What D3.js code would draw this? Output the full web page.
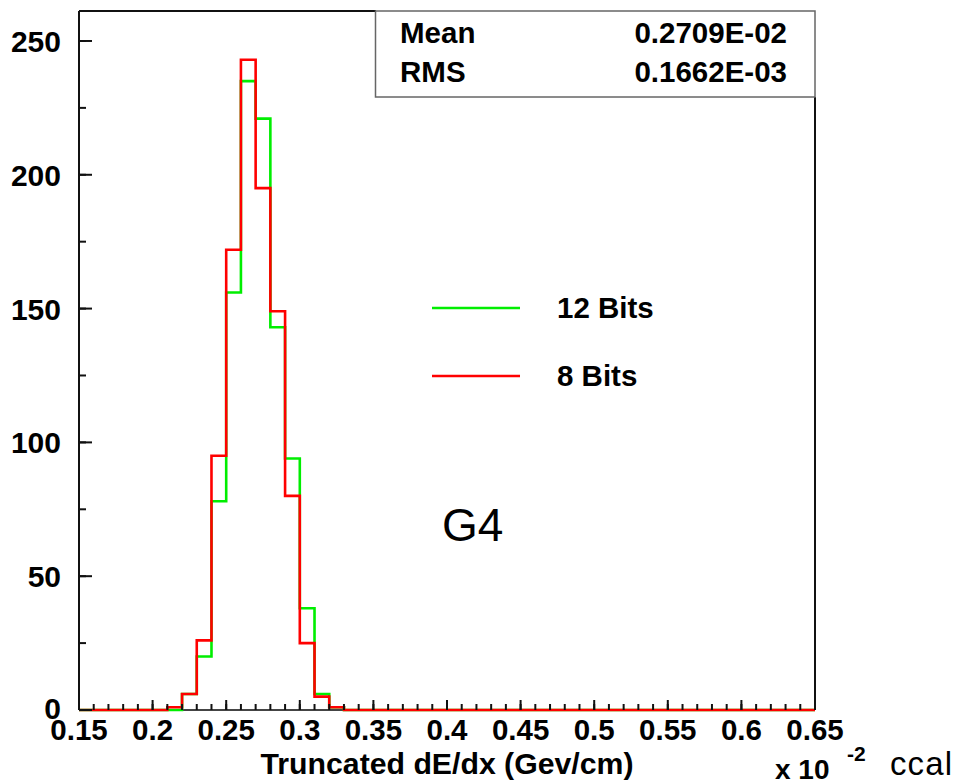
<!DOCTYPE html>
<html>
<head>
<meta charset="utf-8">
<script src="https://cdn.jsdelivr.net/npm/d3@7"></script>
<style>
  html, body { margin: 0; padding: 0; background: #fff; }
  svg { display: block; }
  text { font-family: "Liberation Sans", Arial, Helvetica, sans-serif; }
</style>
</head>
<body>
<svg id="chart" width="956" height="784"></svg>
<script>
// ---- Data ----
const binStart = 0.15;
const binWidth = 0.01;
// counts per bin (50 bins, 0.15 .. 0.65, units of 1e-2 GeV/cm)
const counts12Bits = [0,0,0,0,0,0,0,6,20,78,156,235,221,143,94,38,6,1,0,0,
                      0,0,0,0,0,0,0,0,0,0,0,0,0,0,0,0,0,0,0,0,
                      0,0,0,0,0,0,0,0,0,0];
const counts8Bits  = [0,0,0,0,0,0,1,6,26,95,172,243,195,149,80,25,5,1,0,0,
                      0,0,0,0,0,0,0,0,0,0,0,0,0,0,0,0,0,0,0,0,
                      0,0,0,0,0,0,0,0,0,0];
const xTickLabels = ["0.15","0.2","0.25","0.3","0.35","0.4","0.45","0.5","0.55","0.6","0.65"];
const yTickLabels = ["0","50","100","150","200","250"];
const seriesNames = ["12 Bits", "8 Bits"];
const statNames = ["Mean", "RMS"];
const statValues = ["0.2709E-02", "0.1662E-03"];

// ---- Layout ----
const svg = d3.select("#chart");
const L = 79, R = 815, T = 11, B = 710;
const x = d3.scaleLinear().domain([0.15, 0.65]).range([L, R]);
const y = d3.scaleLinear().domain([0, 261.2]).range([B, T]);

const frameColor = "#111";

// ---- Histograms ----
function stepPoints(counts) {
  const pts = [[binStart, 0]];
  counts.forEach((c, i) => {
    const lo = binStart + i * binWidth, hi = lo + binWidth;
    pts.push([lo, c], [hi, c]);
  });
  pts.push([binStart + counts.length * binWidth, 0]);
  return pts;
}
const line = d3.line().x(d => x(d[0])).y(d => y(d[1]));

// axis baseline (drawn first)
svg.append("line").attr("x1", L).attr("x2", R).attr("y1", B).attr("y2", B)
  .attr("stroke", "#444").attr("stroke-width", 2);

svg.append("path").attr("d", line(stepPoints(counts12Bits)))
  .attr("fill", "none").attr("stroke", "#00ee00").attr("stroke-width", 2.6);
svg.append("path").attr("d", line(stepPoints(counts8Bits)))
  .attr("fill", "none").attr("stroke", "#ff0000").attr("stroke-width", 2.6);

// ---- Frame ----
svg.append("line").attr("x1", L).attr("x2", L).attr("y1", T).attr("y2", B)
  .attr("stroke", frameColor).attr("stroke-width", 2);
svg.append("line").attr("x1", L).attr("x2", 376).attr("y1", T).attr("y2", T)
  .attr("stroke", frameColor).attr("stroke-width", 2);
svg.append("line").attr("x1", R).attr("x2", R).attr("y1", 97).attr("y2", B)
  .attr("stroke", frameColor).attr("stroke-width", 2);

// ---- X ticks ----
const xMinor = d3.range(0, 51).map(i => 0.15 + i * 0.01);
const xMajor = d3.range(0, 11).map(i => 0.15 + i * 0.05);
svg.append("g").selectAll("line").data(xMinor).join("line")
  .attr("x1", d => x(d)).attr("x2", d => x(d))
  .attr("y1", B).attr("y2", B - 6)
  .attr("stroke", frameColor).attr("stroke-width", 2);
svg.append("g").selectAll("line").data(xMajor).join("line")
  .attr("x1", d => x(d)).attr("x2", d => x(d))
  .attr("y1", B).attr("y2", B - 10)
  .attr("stroke", frameColor).attr("stroke-width", 2);
svg.append("g").selectAll("text").data(xMajor).join("text")
  .attr("x", d => x(d)).attr("y", 740)
  .attr("text-anchor", "middle")
  .attr("font-size", 29.5).attr("font-weight", "bold").attr("fill", "#000")
  .text((d, i) => xTickLabels[i]);

// ---- Y ticks ----
const yMajor = d3.range(0, 6).map(i => i * 50);
const yMinor = d3.range(0, 11).map(i => i * 25);
svg.append("g").selectAll("line").data(yMinor).join("line")
  .attr("x1", L).attr("x2", L + 7)
  .attr("y1", d => y(d)).attr("y2", d => y(d))
  .attr("stroke", frameColor).attr("stroke-width", 2);
svg.append("g").selectAll("line").data(yMajor).join("line")
  .attr("x1", L).attr("x2", L + 13)
  .attr("y1", d => y(d)).attr("y2", d => y(d))
  .attr("stroke", frameColor).attr("stroke-width", 2);
svg.append("g").selectAll("text").data(yMajor).join("text")
  .attr("x", 61).attr("y", d => y(d) + (d === 0 ? 9 : 11))
  .attr("text-anchor", "end")
  .attr("font-size", 30).attr("font-weight", "bold").attr("fill", "#000")
  .text((d, i) => yTickLabels[i]);

// ---- Axis title ----
svg.append("text").attr("x", (L + R) / 2).attr("y", 774)
  .attr("text-anchor", "middle").attr("font-size", 30).attr("font-weight", "bold")
  .attr("textLength", 373).attr("lengthAdjust", "spacingAndGlyphs")
  .text("Truncated dE/dx (Gev/cm)");
svg.append("text").attr("x", 775).attr("y", 779)
  .attr("font-size", 28).attr("font-weight", "bold").text("x 10");
svg.append("text").attr("x", 847).attr("y", 761)
  .attr("font-size", 21).attr("font-weight", "bold").text("-2");
svg.append("text").attr("x", 890).attr("y", 775)
  .attr("font-size", 33).attr("textLength", 62).text("ccal");

// ---- Stats box ----
svg.append("rect").attr("x", 375.5).attr("y", T).attr("width", R - 375.5).attr("height", 97 - T)
  .attr("fill", "#fff").attr("stroke", "#666").attr("stroke-width", 1.5);
const statY = [43, 82];
statNames.forEach((n, i) => {
  svg.append("text").attr("x", 400).attr("y", statY[i])
    .attr("font-size", 29.5).attr("font-weight", "bold").text(n);
  svg.append("text").attr("x", 787).attr("y", statY[i]).attr("text-anchor", "end")
    .attr("font-size", 29.5).attr("font-weight", "bold").text(statValues[i]);
});

// ---- Legend ----
const legendColors = ["#00ee00", "#ff0000"];
const legendY = [308, 376];
seriesNames.forEach((n, i) => {
  svg.append("line").attr("x1", 432).attr("x2", 520)
    .attr("y1", legendY[i]).attr("y2", legendY[i])
    .attr("stroke", legendColors[i]).attr("stroke-width", 2.6);
  svg.append("text").attr("x", 557).attr("y", legendY[i] + 10)
    .attr("font-size", 29.5).attr("font-weight", "bold").text(n);
});

// ---- G4 label ----
svg.append("text").attr("x", 442).attr("y", 541)
  .attr("font-size", 46).text("G4");
</script>
</body>
</html>
